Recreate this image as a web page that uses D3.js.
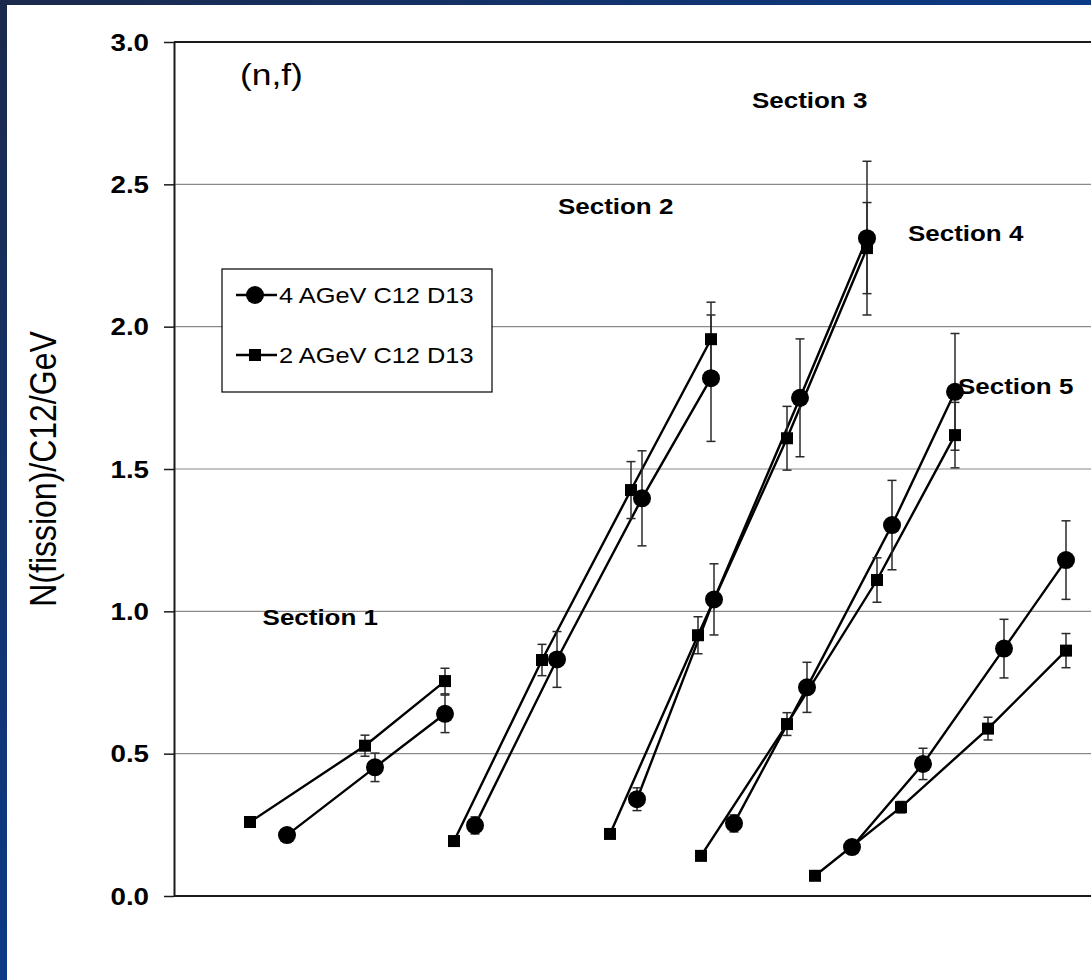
<!DOCTYPE html>
<html>
<head>
<meta charset="utf-8">
<script src="https://cdn.jsdelivr.net/npm/d3@7"></script>
<style>
  html, body { margin: 0; padding: 0; background: #fff; }
  svg { display: block; }
</style>
</head>
<body>
<svg id="chart" width="1091" height="980"></svg>
<script>
// ---- data -------------------------------------------------------------
const seriesNames = ["4 AGeV C12 D13", "2 AGeV C12 D13"];
const sectionNames = ["Section 1", "Section 2", "Section 3", "Section 4", "Section 5"];
const yTicks = [0, 0.5, 1.0, 1.5, 2.0, 2.5, 3.0];

// 4 AGeV (circles): position along target, yield, error — one list per section
const circX = [[5.65, 10.05, 13.55], [15.05, 19.15, 23.4, 26.85], [23.15, 27.0, 31.3, 34.65], [28.0, 31.65, 35.9, 39.05], [33.9, 37.45, 41.5, 44.6]];
const circY = [[0.214, 0.452, 0.64], [0.248, 0.831, 1.397, 1.819], [0.340, 1.042, 1.750, 2.311], [0.255, 0.733, 1.303, 1.771], [0.172, 0.464, 0.869, 1.180]];
const circErr = [[0.022, 0.05, 0.066], [0.03, 0.098, 0.167, 0.222], [0.04, 0.125, 0.207, 0.27], [0.03, 0.088, 0.157, 0.205], [0.0, 0.055, 0.103, 0.138]];

// 2 AGeV (squares)
const sqX = [[3.8, 9.55, 13.55], [14.0, 18.4, 22.85, 26.85], [21.8, 26.2, 30.65, 34.65], [26.35, 30.65, 35.15, 39.05], [32.05, 36.35, 40.7, 44.6]];
const sqY = [[0.26, 0.528, 0.755], [0.193, 0.829, 1.426, 1.956], [0.218, 0.916, 1.608, 2.276], [0.141, 0.604, 1.110, 1.619], [0.071, 0.312, 0.588, 0.862]];
const sqErr = [[0.0, 0.037, 0.045], [0.0, 0.055, 0.10, 0.13], [0.0, 0.065, 0.112, 0.16], [0.0, 0.04, 0.078, 0.115], [0.0, 0.02, 0.04, 0.06]];

// section captions: left edge and baseline in data units
const sectionLabelX = [4.43, 19.2, 28.9, 36.7, 39.2];
const sectionLabelY = [0.952, 2.396, 2.768, 2.301, 1.763];

// ---- layout -----------------------------------------------------------
const W = 1091, H = 980;
const plot = { left: 174, top: 42, right: 1094, bottom: 896 };
const FONT = "'Liberation Sans', Arial, Helvetica, sans-serif";
const SX = 1.18; // horizontal text stretch

const svg = d3.select("#chart");

// slide backdrop: blue frame with white panel
const defs = svg.append("defs");
const grad = defs.append("linearGradient").attr("id", "frame")
  .attr("x1", "0").attr("y1", "0").attr("x2", "1").attr("y2", "1");
grad.append("stop").attr("offset", "0").attr("stop-color", "#1b2a4c");
grad.append("stop").attr("offset", "0.5").attr("stop-color", "#0b3a86");
grad.append("stop").attr("offset", "1").attr("stop-color", "#003d96");
svg.append("rect").attr("width", W).attr("height", H).attr("fill", "url(#frame)");
svg.append("rect").attr("x", 7).attr("y", 5).attr("width", W - 7).attr("height", H - 5).attr("fill", "#fff");

const x = d3.scaleLinear().domain([0, 46]).range([plot.left, plot.right]);
const y = d3.scaleLinear().domain([0, 3]).range([plot.bottom, plot.top]);

// gridlines
svg.append("g").selectAll("line").data(yTicks.filter(t => t > 0 && t < 3)).join("line")
  .attr("x1", plot.left).attr("x2", W)
  .attr("y1", d => y(d)).attr("y2", d => y(d))
  .attr("stroke", "#8a8a8a").attr("stroke-width", 1.2);

// top border
svg.append("line").attr("x1", plot.left).attr("x2", W)
  .attr("y1", y(3)).attr("y2", y(3)).attr("stroke", "#1a1a1a").attr("stroke-width", 2);
// bottom axis line
svg.append("line").attr("x1", plot.left).attr("x2", W)
  .attr("y1", y(0)).attr("y2", y(0)).attr("stroke", "#1a1a1a").attr("stroke-width", 2);

// y axis
const yAxis = d3.axisLeft(y).tickValues(yTicks).tickFormat(d3.format(".1f"))
  .tickSizeInner(10).tickSizeOuter(0);
const gy = svg.append("g").attr("transform", `translate(${plot.left},0)`).call(yAxis);
gy.select(".domain").attr("stroke", "#1a1a1a").attr("stroke-width", 2);
gy.selectAll(".tick line").attr("stroke", "#1a1a1a").attr("stroke-width", 1.5);
gy.selectAll(".tick text")
  .attr("font-family", FONT).attr("font-weight", "bold").attr("font-size", 23.5)
  .attr("fill", "#000").attr("text-anchor", "end")
  .attr("x", -25 / SX).attr("dy", "0.35em")
  .attr("transform", `scale(${SX},1)`);

// y axis title
svg.append("text")
  .attr("transform", `translate(56,${(plot.top + plot.bottom) / 2}) scale(${SX},1) rotate(-90)`)
  .attr("text-anchor", "middle")
  .attr("font-family", FONT).attr("font-size", 32).attr("fill", "#000")
  .text("N(fission)/C12/GeV");

// "(n,f)" tag
svg.append("text")
  .attr("transform", `translate(240,85) scale(${SX},1)`)
  .attr("font-family", FONT).attr("font-size", 30).attr("fill", "#000")
  .text("(n,f)");

// section captions
sectionNames.forEach((name, i) => {
  svg.append("text")
    .attr("transform", `translate(${x(sectionLabelX[i])},${y(sectionLabelY[i])}) scale(${SX},1)`)
    .attr("font-family", FONT).attr("font-weight", "bold").attr("font-size", 22)
    .attr("fill", "#000").text(name);
});

// build point records
function points(xs, ys, es) {
  return xs.map((row, s) => row.map((v, k) => ({ section: s, x: v, y: ys[s][k], e: es[s][k] })));
}
const circles = points(circX, circY, circErr);
const squares = points(sqX, sqY, sqErr);

const line = d3.line().x(d => x(d.x)).y(d => y(d.y));

const gData = svg.append("g");

// connecting lines per section
[circles, squares].forEach(series => {
  gData.append("g").selectAll("path").data(series).join("path")
    .attr("d", line).attr("fill", "none")
    .attr("stroke", "#000").attr("stroke-width", 2.4);
});

// error bars
const cap = 4.5;
[circles, squares].forEach(series => {
  const pts = series.flat().filter(d => d.e > 0);
  const g = gData.append("g").attr("stroke", "#2a2a2a").attr("stroke-width", 1.5);
  g.selectAll("line.v").data(pts).join("line").attr("class", "v")
    .attr("x1", d => x(d.x)).attr("x2", d => x(d.x))
    .attr("y1", d => y(d.y - d.e)).attr("y2", d => y(d.y + d.e));
  g.selectAll("line.t").data(pts).join("line").attr("class", "t")
    .attr("x1", d => x(d.x) - cap).attr("x2", d => x(d.x) + cap)
    .attr("y1", d => y(d.y + d.e)).attr("y2", d => y(d.y + d.e));
  g.selectAll("line.b").data(pts).join("line").attr("class", "b")
    .attr("x1", d => x(d.x) - cap).attr("x2", d => x(d.x) + cap)
    .attr("y1", d => y(d.y - d.e)).attr("y2", d => y(d.y - d.e));
});

// markers
const R = 9, S = 12;
gData.append("g").selectAll("circle").data(circles.flat()).join("circle")
  .attr("cx", d => x(d.x)).attr("cy", d => y(d.y)).attr("r", R).attr("fill", "#000");
gData.append("g").selectAll("rect").data(squares.flat()).join("rect")
  .attr("x", d => x(d.x) - S / 2).attr("y", d => y(d.y) - S / 2)
  .attr("width", S).attr("height", S).attr("fill", "#000");

// legend
const lg = svg.append("g").attr("transform", "translate(222,269)");
lg.append("rect").attr("width", 270).attr("height", 123)
  .attr("fill", "#fff").attr("stroke", "#000").attr("stroke-width", 1.2);
const rows = [26, 86];
seriesNames.forEach((name, i) => {
  const row = lg.append("g").attr("transform", `translate(0,${rows[i]})`);
  row.append("line").attr("x1", 14).attr("x2", 55).attr("y1", 0).attr("y2", 0)
    .attr("stroke", "#000").attr("stroke-width", 2.4);
  if (i === 0) row.append("circle").attr("cx", 33).attr("r", R).attr("fill", "#000");
  else row.append("rect").attr("x", 33 - S / 2).attr("y", -S / 2).attr("width", S).attr("height", S).attr("fill", "#000");
  row.append("text")
    .attr("transform", `translate(57,0) scale(${SX},1)`)
    .attr("dy", "0.35em")
    .attr("font-family", FONT).attr("font-size", 21.5).attr("fill", "#000")
    .text(name);
});
</script>
</body>
</html>
